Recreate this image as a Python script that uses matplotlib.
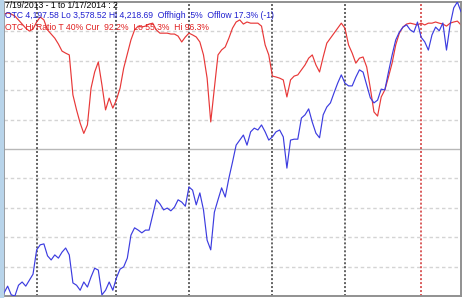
import numpy as np
import pandas as pd
import matplotlib
matplotlib.use("Agg")
import matplotlib.pyplot as plt

# OTC composite close, 7/19/2013 - 1/17/2014 (daily)
otc = [3585, 3600, 3581, 3578.52, 3602, 3609, 3600, 3613, 3626, 3679,
       3690, 3692, 3666, 3657, 3668, 3661, 3674, 3683, 3668, 3607,
       3602, 3591, 3609, 3598, 3620, 3639, 3635, 3581, 3591, 3609,
       3591, 3618, 3637, 3642, 3661, 3711, 3727, 3722, 3716, 3722,
       3722, 3755, 3788, 3779, 3766, 3770, 3764, 3772, 3788, 3783,
       3774, 3816, 3809, 3777, 3803, 3766, 3700, 3679, 3761, 3788,
       3814, 3794, 3835, 3870, 3907, 3918, 3929, 3907, 3936, 3944,
       3940, 3951, 3936, 3918, 3925, 3936, 3940, 3925, 3857, 3918,
       3920, 3920, 3966, 3973, 3986, 3957, 3933, 3923, 3973, 3990,
       3999, 4021, 4042, 4060, 4042, 4036, 4036, 4055, 4071, 4066,
       4038, 4010, 3999, 4005, 4029, 4027, 4066, 4103, 4136, 4153,
       4164, 4169, 4158, 4153, 4175, 4142, 4132, 4114, 4147, 4164,
       4156, 4173, 4114, 4169, 4206, 4218.69, 4197.58]

# OTC Hi Ratio (%)
hi_ratio = [95.9, 96.3, 95.9, 95.2, 93.9, 92.5, 91.1, 90.1, 90.8, 93.2,
            94.9, 93.9, 90.5, 89.1, 87.7, 85.7, 83.3, 82.6, 82.0, 68.4,
            63.3, 58.8, 55.3, 58.2, 70.7, 76.2, 79.6, 71.8, 63.3, 67.3,
            63.9, 66.7, 70.7, 77.5, 82.3, 87.1, 90.5, 91.8, 91.5, 91.8,
            92.5, 92.8, 90.5, 89.4, 89.4, 89.4, 89.1, 89.1, 88.4, 86.4,
            88.1, 89.4, 88.8, 88.1, 86.4, 82.0, 74.1, 59.2, 70.7, 82.0,
            83.7, 84.7, 87.7, 91.1, 93.2, 93.9, 92.5, 93.2, 92.8, 92.8,
            92.8, 91.8, 85.4, 82.0, 74.8, 74.5, 74.1, 73.5, 67.7, 73.5,
            74.8, 75.2, 76.9, 78.6, 80.9, 82.0, 78.6, 76.2, 81.3, 86.0,
            87.7, 89.4, 91.1, 92.8, 91.1, 85.4, 82.6, 79.2, 80.9, 81.3,
            77.9, 70.7, 62.6, 61.2, 67.7, 70.1, 74.5, 79.2, 85.4, 89.4,
            91.5, 92.5, 92.8, 92.5, 92.2, 92.8, 92.2, 92.8, 92.8, 93.2,
            92.8, 92.5, 91.8, 92.8, 93.2, 93.5, 92.2]

holidays = ["2013-09-02", "2013-11-28", "2013-12-25", "2014-01-01"]
days = pd.bdate_range("2013-07-19", "2014-01-17")
days = days[~days.isin(pd.to_datetime(holidays))]

title = "7/19/2013 - 1 to 1/17/2014 : 2"
line1 = "OTC 4,197.58 Lo 3,578.52 Hi 4,218.69  Offhigh .5%  Offlow 17.3% (-1)"
line2 = "OTC Hi Ratio T 40% Cur  92.2%  Lo 55.3%  Hi 96.3%"

x = np.arange(len(days))

fig = plt.figure(figsize=(4.63, 2.98), dpi=100)
fig.patches.append(plt.Rectangle((0, 0), 3 / 463, 1, transform=fig.transFigure,
                                 color="#b8d4ea", zorder=0))
ax = fig.add_axes([4 / 463, 2 / 298, 457 / 463, 294 / 298])
ax.set_xlim(0, len(days) - 1)
ax.set_ylim(0, 100)

# horizontal grid
for g in range(10, 100, 10):
    if g == 50:
        ax.axhline(g, color="#b8b8b8", lw=1, zorder=1)
    else:
        ax.axhline(g, color="#d4d4d4", lw=1, ls=(0, (2.5, 2)), zorder=1)

# month separators
for i in range(1, len(days)):
    if days[i].month != days[i - 1].month:
        c = "#d03030" if days[i].year != days[i - 1].year else "#383838"
        ax.axvline(i, color=c, lw=1.1, ls=(0, (1.3, 1.3)), zorder=1)

ax.plot(x, hi_ratio, color="#e83838", lw=0.85, zorder=3)

ax2 = ax.twinx()
ax2.set_ylim(min(otc), max(otc))
ax2.plot(x, otc, color="#3c3ce0", lw=0.85, zorder=3)

for a in (ax, ax2):
    a.set_xticks([])
    a.set_yticks([])
    for s in a.spines.values():
        s.set_color("#909090")
        s.set_linewidth(1.2)

font = dict(family="Liberation Sans", fontsize=6.2, transform=fig.transFigure,
            va="center", ha="left")
fig.text(5 / 463, 1 - 6 / 298, title, color="black", **font)
fig.text(5 / 463, 1 - 15.5 / 298, line1, color="#2020d0", **font)
fig.text(5 / 463, 1 - 27.5 / 298, line2, color="#e02020", **font)

fig.savefig("out.png", dpi=100)
